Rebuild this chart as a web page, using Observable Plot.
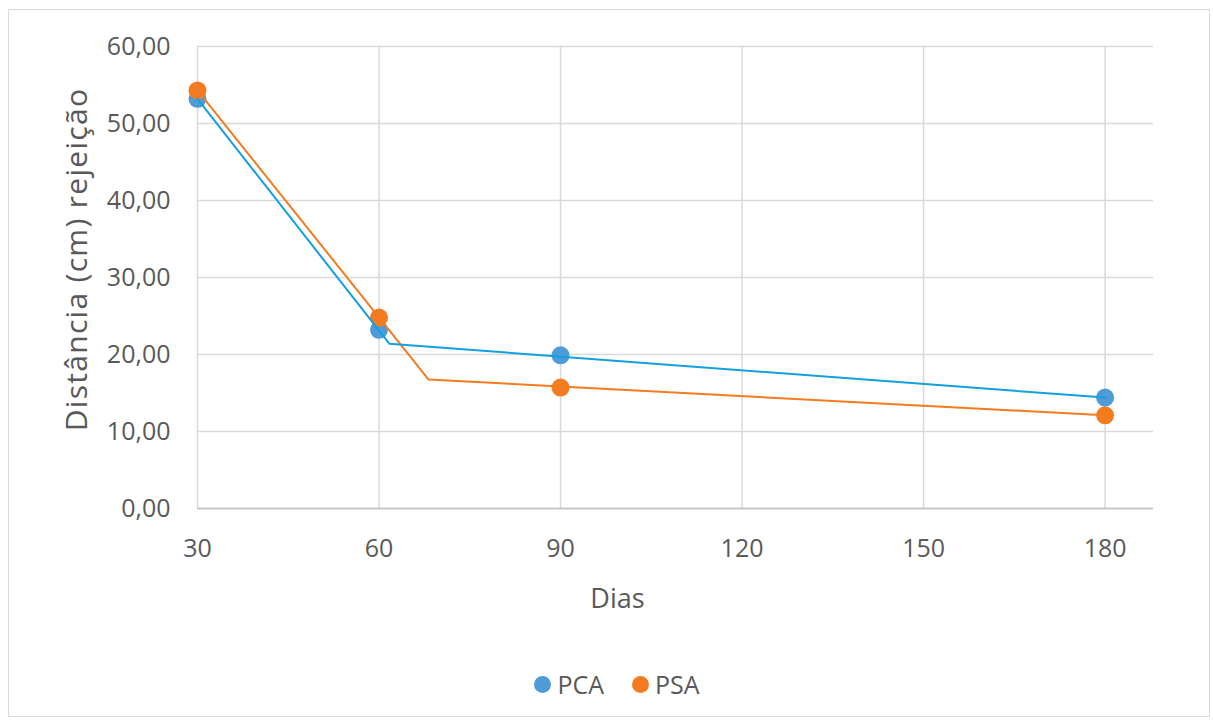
<!DOCTYPE html>
<html>
<head>
<meta charset="utf-8">
<script src="https://cdn.jsdelivr.net/npm/d3@7"></script>
<script src="https://cdn.jsdelivr.net/npm/@observablehq/plot@0.6"></script>
<style>
  html, body { margin: 0; padding: 0; background: #fff; }
  body { width: 1213px; height: 726px; position: relative; overflow: hidden; font-family: "Open Sans", sans-serif; }
  #frame { position: absolute; left: 8px; top: 9px; width: 1202px; height: 708px; border: 1.5px solid #d9d9d9; box-sizing: border-box; }
  #chart { position: absolute; left: 0; top: 0; }
  #legend { position: absolute; top: 667px; left: 0; width: 1234px; display: flex; justify-content: center; gap: 28px; font-size: 25px; color: #595959; }
  .item { display: flex; align-items: center; gap: 6px; }
  .sw { width: 17px; height: 17px; border-radius: 50%; display: inline-block; }
</style>
</head>
<body>
<div id="frame"></div>
<div id="chart"></div>
<div id="legend"></div>
<script>
// Data
const days = [30, 60, 90, 180];
const pca = [53.2, 23.2, 19.9, 14.4];
const psa = [54.3, 24.8, 15.7, 12.1];
// polyline vertices drawn in the chart
const pcaLineX = [30, 61.7, 180];
const pcaLineY = [53.2, 21.4, 14.4];
const psaLineX = [30, 68.2, 180];
const psaLineY = [54.3, 16.75, 12.1];
const xTicks = [30, 60, 90, 120, 150, 180];
const yTicks = [0, 10, 20, 30, 40, 50, 60];
const seriesNames = ["PCA", "PSA"];
const dotColors = ["#4E9BD8", "#F47B20"];
const lineColors = ["#12A0E0", "#F47B20"];
const yTitle = "Distância (cm) rejeição";
const xTitle = "Dias";

const pcaPts = days.map((d, i) => ({day: d, v: pca[i]}));
const psaPts = days.map((d, i) => ({day: d, v: psa[i]}));
const pcaLine = pcaLineX.map((d, i) => ({day: d, v: pcaLineY[i]}));
const psaLine = psaLineX.map((d, i) => ({day: d, v: psaLineY[i]}));

const fmt = d => d.toFixed(2).replace(".", ",");

const chart = Plot.plot({
  width: 1213,
  height: 640,
  marginLeft: 197,
  marginRight: 60,
  marginTop: 46,
  marginBottom: 132,
  style: {fontFamily: "'Open Sans', sans-serif", fontSize: "25px", color: "#595959", background: "transparent"},
  x: {domain: [30, 188]},
  y: {domain: [0, 60]},
  marks: [
    Plot.gridX(xTicks, {stroke: "#d9d9d9", strokeOpacity: 1, strokeWidth: 1.5}),
    Plot.gridY(yTicks, {stroke: "#d9d9d9", strokeOpacity: 1, strokeWidth: 1.5}),
    Plot.ruleY([0], {stroke: "#bfbfbf", strokeWidth: 1.5}),
    Plot.axisX(xTicks, {tickSize: 0, tickPadding: 31, label: null, fontSize: 25}),
    Plot.axisY(yTicks, {tickSize: 0, tickPadding: 27, tickFormat: fmt, label: null, fontSize: 25}),
    Plot.text([xTitle], {frameAnchor: "bottom", textAnchor: "middle", dx: -58, dy: 99, fontSize: 27, fill: "#595959"}),
    Plot.text([yTitle], {frameAnchor: "left", textAnchor: "middle", rotate: -90, dx: -120, dy: -18, fontSize: 30, fill: "#595959"}),
    Plot.dot(pcaPts, {x: "day", y: "v", r: 9, fill: dotColors[0]}),
    Plot.dot(psaPts, {x: "day", y: "v", r: 9, fill: dotColors[1]}),
    Plot.line(psaLine, {x: "day", y: "v", stroke: lineColors[1], strokeWidth: 2}),
    Plot.line(pcaLine, {x: "day", y: "v", stroke: lineColors[0], strokeWidth: 2})
  ]
});
d3.select(chart).selectAll("text")
  .filter(function() { return this.textContent === yTitle; })
  .style("letter-spacing", "1.3px");
document.getElementById("chart").appendChild(chart);

const legend = document.getElementById("legend");
seriesNames.forEach((name, i) => {
  const item = document.createElement("div");
  item.className = "item";
  const sw = document.createElement("span");
  sw.className = "sw";
  sw.style.background = dotColors[i];
  const lab = document.createElement("span");
  lab.textContent = name;
  item.appendChild(sw);
  item.appendChild(lab);
  legend.appendChild(item);
});
</script>
</body>
</html>
